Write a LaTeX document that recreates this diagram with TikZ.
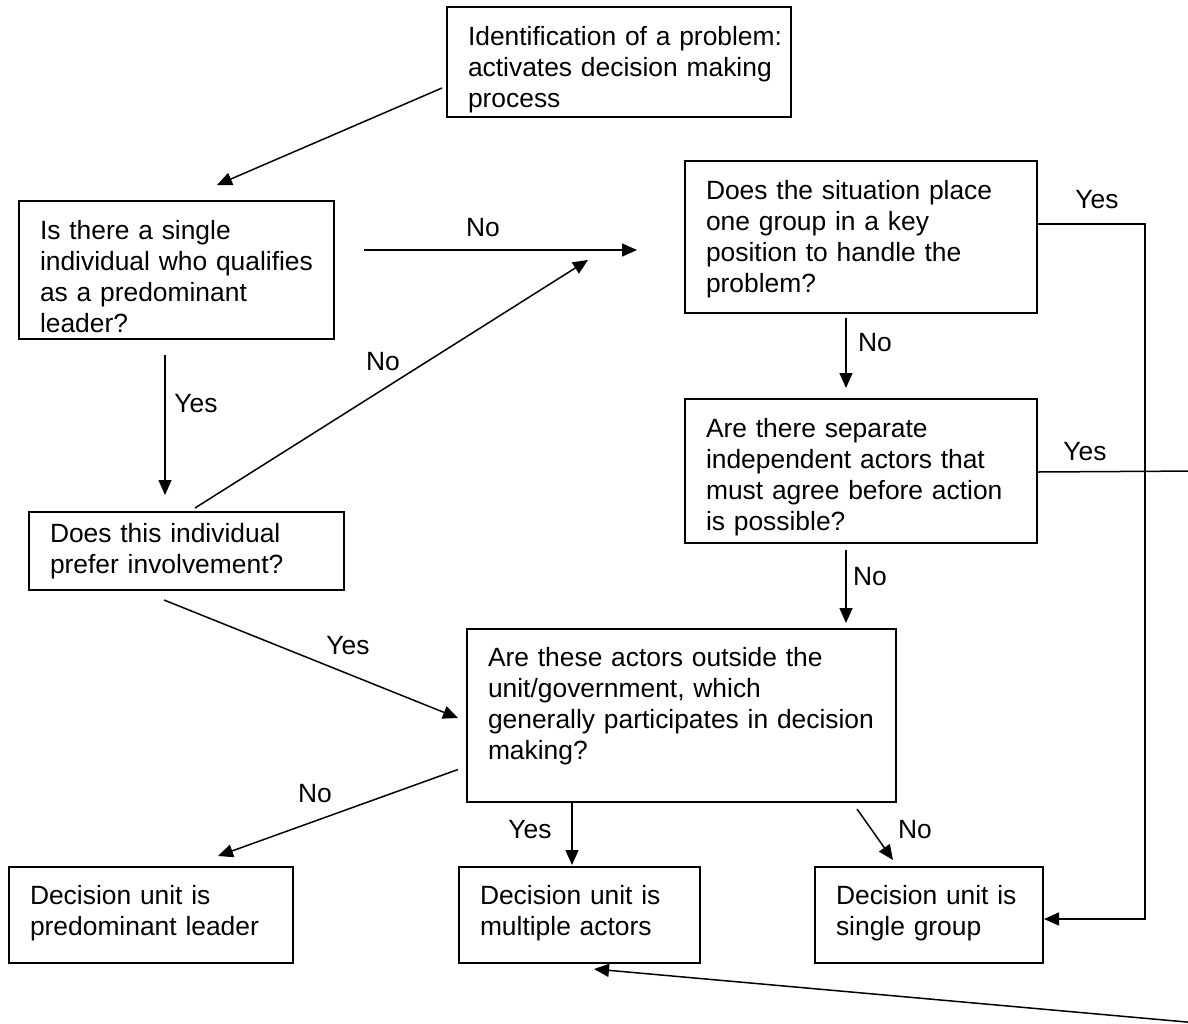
\documentclass[tikz,border=0pt]{standalone}
\usepackage{fontspec}
\setmainfont{Liberation Sans}
\usetikzlibrary{arrows.meta}

\begin{document}
\begin{tikzpicture}[
    x=0.5pt, y=-0.5pt,
    font=\fontsize{13.2}{15.5}\selectfont,
    qbox/.style n args={3}{draw,line width=1pt,align=left,anchor=north west,
                inner xsep=10.5pt,inner ysep=0pt,text width=#1,
                text height=#2,text depth=#3},
    arr/.style={-{Triangle[length=7.5pt,width=6.5pt]},line width=0.75pt},
    plain/.style={line width=0.75pt},
    lbl/.style={inner sep=0pt}
  ]
    \useasboundingbox (0,0) rectangle (1188,1023);
    \clip (0,0) rectangle (1188,1023);
    % questions
    \node[qbox={151pt}{19pt}{36pt}] (problem) at (446,6)
      {\mbox{Identification of a problem:}\\\mbox{activates decision making}\\process};
    \node[qbox={136.5pt}{19pt}{50pt}] (leader) at (18,200)
      {Is there a single\\individual who qualifies\\as a predominant\\leader?};
    \node[qbox={136.5pt}{15pt}{24pt}] (involve) at (28,511)
      {Does this individual\\prefer involvement?};
    \node[qbox={155pt}{19pt}{57pt}] (group) at (684,160)
      {Does the situation place\\one group in a key\\position to handle the\\problem?};
    \node[qbox={155pt}{19pt}{53pt}] (actors) at (684,398)
      {Are there separate\\independent actors that\\must agree before action\\is possible?};
    \node[qbox={193.5pt}{18.5pt}{68pt}] (outside) at (466,628)
      {Are these actors outside the\\unit/government, which\\generally participates in decision\\making?};
    % decision units
    \node[qbox={121pt}{18.5pt}{29.5pt}] (unitleader) at (8,866)
      {Decision unit is\\predominant leader};
    \node[qbox={99.5pt}{18.5pt}{29.5pt}] (unitmulti) at (458,866)
      {Decision unit is\\multiple actors};
    \node[qbox={93pt}{18.5pt}{29.5pt}] (unitgroup) at (814,866)
      {Decision unit is\\single group};
    % ends off the page
    \coordinate (offright) at (1200,471);
    \coordinate (offbottom) at (1200,1023.2);

    \draw[arr] ([shift={(-4,-30)}]problem.south west) -- ([shift={(199,-15)}]leader.north west);
    \draw[arr] ([shift={(29,-20)}]leader.east) -- ([shift={(-47,13)}]group.west);
    \draw[arr] ([shift={(-11.5,15)}]leader.south) -- ([shift={(-21.5,-16)}]involve.north);
    \draw[arr] ([shift={(167,-3)}]involve.north west) -- ([shift={(-96,-54)}]group.south west);
    \draw[arr] ([shift={(136,9)}]involve.south west) -- ([shift={(-8,2.5)}]outside.west);
    \draw[arr] ([shift={(-15,4)}]group.south) -- ([shift={(-15,-10)}]actors.north);
    \draw[arr] ([shift={(-15,6)}]actors.south) -- ([shift={(164.5,-5)}]outside.north);
    \draw[arr] ([shift={(0,-13)}]group.east) -- ++(107,0) |- ([shift={(0,4)}]unitgroup.east);
    \draw[plain] ([shift={(0,1)}]actors.east) -- (offright);
    \draw[arr] ([shift={(-8,54)}]outside.west) -- ([shift={(-76,-10)}]unitleader.north east);
    \draw[arr] ([shift={(-109.5,0)}]outside.south) -- ([shift={(-7.5,-1)}]unitmulti.north);
    \draw[arr] ([shift={(-40,6)}]outside.south east) -- ([shift={(79,-6)}]unitgroup.north west);
    \draw[arr] (offbottom) -- ([shift={(14.5,5)}]unitmulti.south);

    % answers
    \node[lbl] (noA) at (483,228) {No};
    \node[lbl] (yesA) at (196,404) {Yes};
    \node[lbl] (noB) at (383,362) {No};
    \node[lbl] (yesB) at (348,646) {Yes};
    \node[lbl] (noC) at (875,343) {No};
    \node[lbl] (noD) at (870,577) {No};
    \node[lbl] (yesC) at (1097,200) {Yes};
    \node[lbl] (yesD) at (1085,452) {Yes};
    \node[lbl] (noE) at (315,794) {No};
    \node[lbl] (yesE) at (530,830) {Yes};
    \node[lbl] (noF) at (915,830) {No};
\end{tikzpicture}
\end{document}
